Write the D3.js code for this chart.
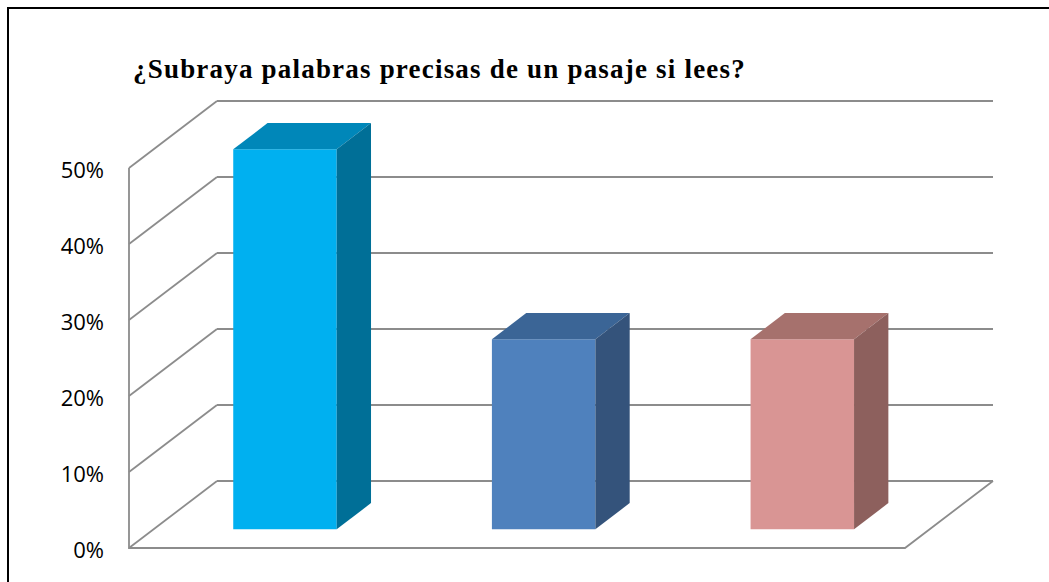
<!DOCTYPE html>
<html>
<head>
<meta charset="utf-8">
<title>Subraya palabras</title>
<style>
body { margin: 0; background: #fff; }
.grid { fill: none; stroke: #8c8c8c; stroke-width: 1.8px; }
.tick text { font-family: "Open Sans", sans-serif; font-size: 22px; fill: #000; }
.title { font-family: "Liberation Serif", "Times New Roman", serif; font-weight: 700; font-size: 27px; letter-spacing: 1.2px; fill: #000; }
</style>
</head>
<body>
<script src="https://cdn.jsdelivr.net/npm/d3@7"></script>
<script>

// data
var categories = ["Categoría 1", "Categoría 2", "Categoría 3"];
var values = [0.50, 0.25, 0.25];
var yTicks = [0, 0.1, 0.2, 0.3, 0.4, 0.5];
var frontColors = ["#00b0f0", "#4f81bd", "#d99594"];
var topColors = ["#0087b9", "#3b6596", "#a6716d"];
var sideColors = ["#006f97", "#34537b", "#8d605d"];
var title = "¿Subraya palabras precisas de un pasaje si lees?";

var width = 1049, height = 582;

var svg = d3.select("body").append("svg")
    .attr("width", width)
    .attr("height", height);

// outer frame (only left and top edges are visible in the crop)
svg.append("path")
    .attr("d", "M8,582 V8 H1049")
    .attr("fill", "none")
    .attr("stroke", "#000")
    .attr("stroke-width", 2);

svg.append("text")
    .attr("class", "title")
    .attr("x", 133)
    .attr("y", 78)
    .text(title);

// front plane scales
var y = d3.scaleLinear().domain([0, 0.5]).range([548, 168]);
var x = d3.scaleBand().domain(categories).range([129, 905])
    .paddingInner(0.6).paddingOuter(0.3);

// depth offset of the back wall
var depth = {dx: 88, dy: -67};
function off(z) { return [depth.dx * z, depth.dy * z]; }

var x0 = x.range()[0], x1 = x.range()[1];

// back wall gridlines
svg.append("g").selectAll("line")
    .data(yTicks)
    .enter().append("line")
    .attr("class", "grid")
    .attr("x1", x0 + depth.dx)
    .attr("x2", x1 + depth.dx)
    .attr("y1", function(d) { return y(d) + depth.dy; })
    .attr("y2", function(d) { return y(d) + depth.dy; });

// side wall diagonals
svg.append("g").selectAll("line")
    .data(yTicks)
    .enter().append("line")
    .attr("class", "grid")
    .attr("x1", x0)
    .attr("x2", x0 + depth.dx)
    .attr("y1", function(d) { return y(d); })
    .attr("y2", function(d) { return y(d) + depth.dy; });

// front axis line + floor front edge + floor right edge
svg.append("path")
    .attr("class", "grid")
    .attr("d", "M" + x0 + "," + y(0.5) + "V" + y(0) + "H" + x1 +
        "L" + (x1 + depth.dx) + "," + (y(0) + depth.dy));

// tick labels
var ticks = svg.append("g").selectAll("g")
    .data(yTicks)
    .enter().append("g")
    .attr("class", "tick");
ticks.append("text")
    .attr("x", 104)
    .attr("y", function(d) { return y(d) + 10; })
    .attr("text-anchor", "end")
    .text(d3.format(".0%"));

// 3d bars
var zFront = 0.28, zBack = 0.67;
var bars = svg.append("g").selectAll("g")
    .data(values)
    .enter().append("g");

function pt(p) { return p[0] + "," + p[1]; }

bars.each(function(v, i) {
    var g = d3.select(this);
    var a = off(zFront), b = off(zBack);
    var l = x(categories[i]) + 2, r = l + x.bandwidth();
    var t = y(v), bt = y(0);
    // front face
    g.append("polygon")
        .attr("points", [[l + a[0], t + a[1]], [r + a[0], t + a[1]], [r + a[0], bt + a[1]], [l + a[0], bt + a[1]]].map(pt).join(" "))
        .attr("fill", frontColors[i]);
    // top face
    g.append("polygon")
        .attr("points", [[l + a[0], t + a[1]], [r + a[0], t + a[1]], [r + b[0], t + b[1]], [l + b[0], t + b[1]]].map(pt).join(" "))
        .attr("fill", topColors[i]);
    // right side face
    g.append("polygon")
        .attr("points", [[r + a[0], t + a[1]], [r + b[0], t + b[1]], [r + b[0], bt + b[1]], [r + a[0], bt + a[1]]].map(pt).join(" "))
        .attr("fill", sideColors[i]);
});

</script>
</body>
</html>
